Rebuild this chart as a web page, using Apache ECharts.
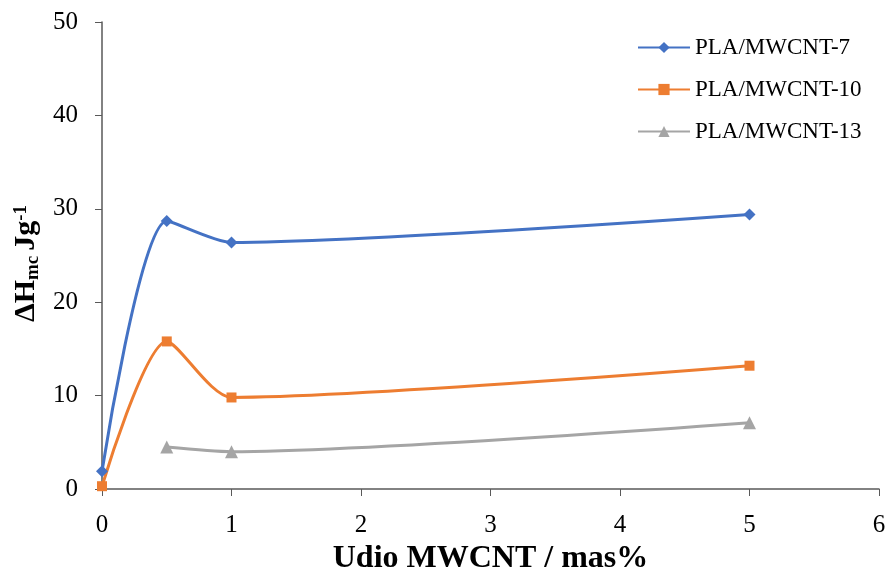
<!DOCTYPE html>
<html><head><meta charset="utf-8">
<script src="https://cdn.jsdelivr.net/npm/echarts@6/dist/echarts.min.js"></script>
<style>html,body{margin:0;padding:0;background:#fff}#c{width:890px;height:573px}</style>
</head><body><div id="c"></div>
<script>
const seriesNames = ['PLA/MWCNT-7', 'PLA/MWCNT-10', 'PLA/MWCNT-13'];
const xVals7 = [0, 0.5, 1, 5];
const yVals7 = [1.9, 28.7, 26.4, 29.4];
const xVals10 = [0, 0.5, 1, 5];
const yVals10 = [0.3, 15.8, 9.8, 13.2];
const xVals13 = [0.5, 1, 5];
const yVals13 = [4.5, 4.0, 7.1];
const colors = ['#4472C4', '#ED7D31', '#A5A5A5'];
const symbols = ['diamond', 'rect', 'triangle'];
const symSizes = [12, 10, 13];
const font = 'Liberation Serif';

const pairs = (xs, ys) => xs.map((x, i) => [x, ys[i]]);
const datas = [pairs(xVals7, yVals7), pairs(xVals10, yVals10), pairs(xVals13, yVals13)];

const chart = echarts.init(document.getElementById('c'));
chart.setOption({
  animation: false,
  grid: {left: 102, right: 11, top: 22, bottom: 84, outerBoundsMode: 'none', containLabel: false},
  legend: {
    orient: 'vertical', left: 632, top: 31, itemWidth: 52, itemHeight: 14, itemGap: 19,
    textStyle: {fontFamily: font, fontSize: 23, color: '#000'},
    data: seriesNames
  },
  xAxis: {
    type: 'value', min: 0, max: 6, interval: 1,
    name: 'Udio MWCNT / mas%', nameLocation: 'middle', nameGap: 45,
    nameTextStyle: {fontFamily: font, fontSize: 32, fontWeight: 'bold', color: '#000'},
    axisLine: {show: true, lineStyle: {color: '#595959', width: 1.5}},
    axisTick: {show: true, length: 7, lineStyle: {color: '#595959'}},
    axisLabel: {fontFamily: font, fontSize: 25, color: '#000', margin: 24},
    splitLine: {show: false}
  },
  yAxis: {
    type: 'value', min: 0, max: 50, interval: 10,
    name: '{b|ΔH}{sub|mc}{s| }{b|Jg}{sup|-1}', nameLocation: 'middle', nameGap: 57,
    nameTextStyle: {
      rich: {
        b: {fontFamily: font, fontSize: 30, fontWeight: 'bold', color: '#000'},
        s: {fontFamily: font, fontSize: 20, fontWeight: 'bold', color: '#000'},
        sub: {fontFamily: font, fontSize: 19, fontWeight: 'bold', color: '#000', verticalAlign: 'bottom', padding: [12, 0, 0, 0]},
        sup: {fontFamily: font, fontSize: 19, fontWeight: 'bold', color: '#000', verticalAlign: 'top', padding: [0, 16, 12, 0]}
      }
    },
    axisLine: {show: true, lineStyle: {color: '#595959', width: 1.5}},
    axisTick: {show: true, length: 7, lineStyle: {color: '#595959'}},
    axisLabel: {fontFamily: font, fontSize: 25, color: '#000', margin: 24},
    splitLine: {show: false}
  },
  series: seriesNames.map((n, i) => ({
    name: n, type: 'line', data: datas[i], smooth: 0.25,
    symbol: symbols[i], symbolSize: symSizes[i],
    lineStyle: {color: colors[i], width: 3},
    itemStyle: {color: colors[i]}
  }))
});
</script></body></html>
